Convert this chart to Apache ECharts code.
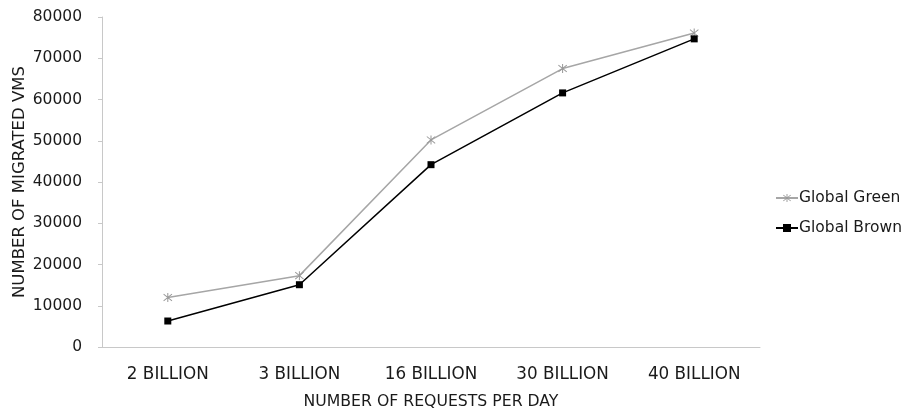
<!DOCTYPE html>
<html><head><meta charset="utf-8">
<script src="https://cdn.jsdelivr.net/npm/echarts@6/dist/echarts.min.js"></script>
<style>html,body{margin:0;padding:0;background:#fff}#c{width:905px;height:412px}</style>
</head><body><div id="c"></div>
<script>
const categories = ['2 BILLION', '3 BILLION', '16 BILLION', '30 BILLION', '40 BILLION'];
const globalGreen = [12000, 17300, 50200, 67500, 76100];
const globalBrown = [6300, 15100, 44200, 61600, 74700];
const yTicks = { min: 0, max: 80000, interval: 10000 };

const asterisk = 'path://M4.5 0L5.5 0L5.5 10L4.5 10Z M0.6 1.6L1.2 0.8L9.4 8.4L8.8 9.2Z M0.6 8.4L8.8 0.8L9.4 1.6L1.2 9.2Z';
const font = 'DejaVu Sans';
const txt = '#1a1a1a';
const chart = echarts.init(document.getElementById('c'), null, { renderer: 'canvas' });
chart.setOption({
  animation: false,
  textStyle: { fontFamily: font },
  grid: { left: 102, right: 145, top: 17, bottom: 65, containLabel: false, outerBoundsMode: 'none' },
  legend: {
    orient: 'vertical', left: 770, top: 185, itemGap: 14, itemWidth: 22, itemHeight: 10,
    textStyle: { fontFamily: font, fontSize: 15.5, color: txt, padding: [0, 0, 0, -4] },
    data: ['Global Green', 'Global Brown']
  },
  xAxis: {
    type: 'category', data: categories, boundaryGap: true,
    name: 'NUMBER OF REQUESTS PER DAY', nameLocation: 'middle', nameGap: 47,
    nameTextStyle: { fontFamily: font, fontSize: 15.7, color: txt },
    axisLine: { lineStyle: { color: '#c8c8c8', width: 1 } },
    axisTick: { show: false },
    axisLabel: { fontFamily: font, fontSize: 16.8, color: txt, margin: 19 }
  },
  yAxis: {
    type: 'value', min: yTicks.min, max: yTicks.max, interval: yTicks.interval,
    name: 'NUMBER OF MIGRATED VMS', nameLocation: 'middle', nameGap: 74, nameMoveOverlap: false,
    nameTextStyle: { fontFamily: font, fontSize: 16.5, color: txt },
    axisLine: { show: true, lineStyle: { color: '#c8c8c8', width: 1 } },
    axisTick: { show: true, length: 4, lineStyle: { color: '#c8c8c8' } },
    splitLine: { show: false },
    axisLabel: { fontFamily: font, fontSize: 15.5, color: txt, margin: 20, formatter: v => String(v) }
  },
  series: [
    {
      name: 'Global Green', type: 'line', data: globalGreen,
      symbol: asterisk, symbolSize: 9,
      lineStyle: { color: '#a6a6a6', width: 1.5 },
      itemStyle: { color: '#999999' }
    },
    {
      name: 'Global Brown', type: 'line', data: globalBrown,
      symbol: 'rect', symbolSize: 7,
      lineStyle: { color: '#000', width: 1.5 },
      itemStyle: { color: '#000' }
    }
  ]
});
</script></body></html>
